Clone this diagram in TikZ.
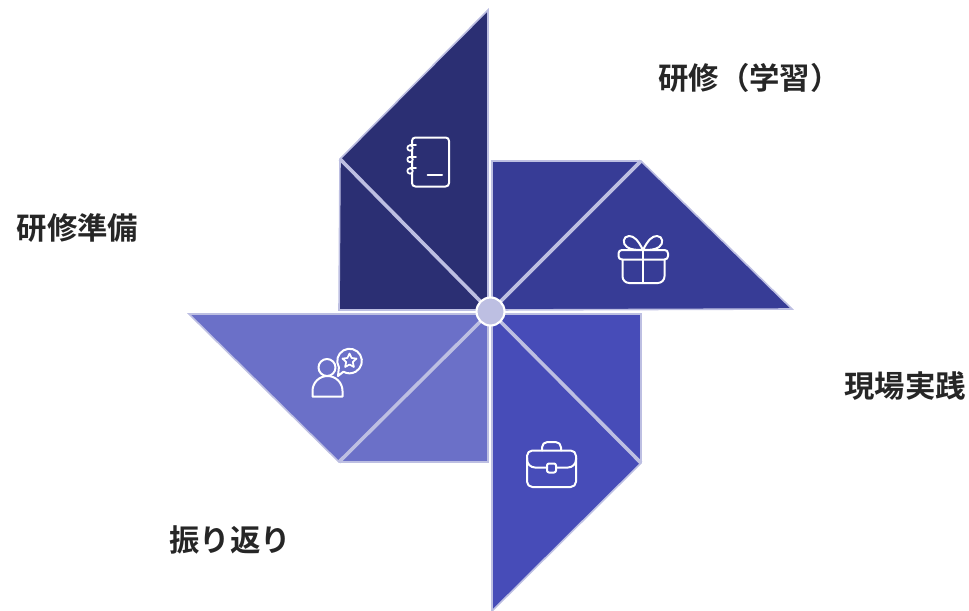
\documentclass[tikz,border=0pt]{standalone}
\usepackage{fontspec}
\setmainfont{Noto Sans CJK JP}[BoldFont={Noto Sans CJK JP Bold}]
\definecolor{bladeA}{HTML}{2B2F73}
\definecolor{bladeB}{HTML}{373C96}
\definecolor{bladeC}{HTML}{474CB8}
\definecolor{bladeD}{HTML}{6B70C8}
\definecolor{edgeC}{HTML}{BDBFE2}
\definecolor{inkC}{HTML}{262626}
\tikzset{
  blade/.style={draw=edgeC,line width=1.2pt,line join=miter},
  divider/.style={draw=edgeC,line width=2.7pt},
  lbl/.style={font=\fontsize{22.8pt}{26pt}\selectfont\bfseries,text=inkC,inner sep=0pt,anchor=center},
  icon/.style={draw=white,line width=1.5pt,line cap=round,line join=round},
  hubst/.style={circle,draw=white,line width=1.6pt,fill=edgeC,minimum size=21pt,inner sep=0pt}
}
\begin{document}
\begin{tikzpicture}[x=0.75pt,y=-0.75pt]
\useasboundingbox (0,0) rectangle (969,610);
\coordinate (c) at (490.5,311.5);
% blades
\coordinate (a1) at (340,159);
\coordinate (b1) at (641,161);
\coordinate (d1) at (641,463);
\coordinate (e1) at (339,462);
\fill[blade,fill=bladeA] (488,10) -- (a1) -- (339,310) -- (488,310) -- cycle;
\fill[blade,fill=bladeB] (492,161) -- (b1) -- (792,309) -- (492,310) -- cycle;
\fill[blade,fill=bladeC] (641,314) -- (d1) -- (492,611) -- (492,314) -- cycle;
\fill[blade,fill=bladeD] (189,314) -- (e1) -- (488,462) -- (488,314) -- cycle;
\draw[divider] (a1) -- (c);
\draw[divider] (b1) -- (c);
\draw[divider] (d1) -- (c);
\draw[divider] (e1) -- (c);
\node[hubst] (hub) at (c) {};
% notebook icon
\draw[icon,rounded corners=2.5pt] (412,137.5) -- (449,137.5) -- (449,186.5) -- (412,186.5) -- cycle;
\foreach \yy in {148,159.5,171}{
  \fill[bladeA] (410,\yy) circle (3);
  \draw[icon,line width=1.3pt] (410,\yy) circle (2.7);
  \draw[icon,line width=1.3pt] (410,\yy-2.7) -- (416,\yy-2.7);
}
\draw[icon] (427.5,175) -- (442,175);
% gift icon
\draw[icon,rounded corners=2.5pt] (618.5,250) rectangle (668,259.5);
\draw[icon,rounded corners=5pt] (622.5,259.5) -- (622.5,283) -- (664.5,283) -- (664.5,259.5);
\draw[icon] (643,250) -- (643,283);
\draw[icon] (643,250) .. controls (638,240) and (634,236) .. (629,236) .. controls (623,236) and (622,244) .. (627,247) .. controls (631,250) and (637,250) .. (643,250);
\draw[icon] (643,250) .. controls (648,240) and (652,236) .. (657,236) .. controls (663,236) and (664,244) .. (659,247) .. controls (655,250) and (649,250) .. (643,250);
% case icon
\draw[icon,rounded corners=4pt] (527,450.5) rectangle (576,487);
\draw[icon,rounded corners=4pt] (542,450.5) -- (542,442) -- (561,442) -- (561,450.5);
\draw[icon,rounded corners=6pt] (527,458) -- (527,467.5) -- (547,467.5);
\draw[icon,rounded corners=6pt] (576,458) -- (576,467.5) -- (556,467.5);
\draw[icon,rounded corners=1.5pt] (547,463.5) rectangle (556,472.5);
% person icon
\draw[icon] (327,367.5) circle (8.5);
\draw[icon] (312.5,396.5) -- (342.5,396.5) -- (342.5,391) arc[start angle=0,end angle=-180,radius=15] -- cycle;
\draw[icon] (338.9,367.2) arc[start angle=150,end angle=480,radius=12.3] -- (338,376) -- cycle;
\draw[icon,line width=1.3pt] (349.5,353.5) -- (351.6,358) -- (356.5,358.6) -- (352.8,362) -- (353.9,367) -- (349.5,364.5) -- (345.1,367) -- (346.2,362) -- (342.5,358.6) -- (347.4,358) -- cycle;
% labels
\node[lbl] (t1) at (749.5,78) {研修（学習）};
\node[lbl] (t2) at (77.5,228) {研修準備};
\node[lbl] (t3) at (905,386) {現場実践};
\node[lbl] (t4) at (230,540) {振り返り};
\end{tikzpicture}
\end{document}
